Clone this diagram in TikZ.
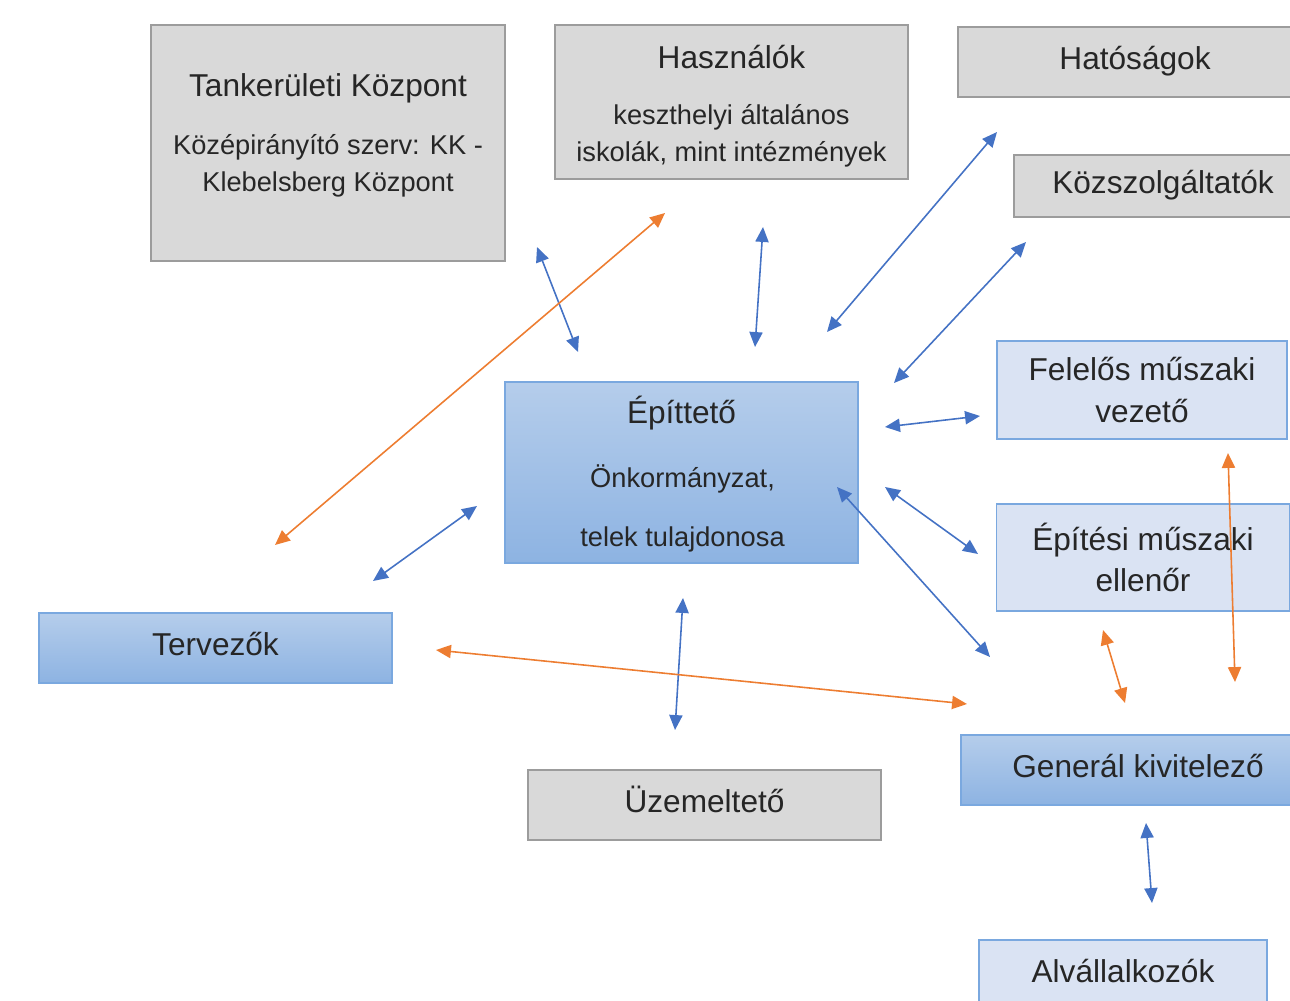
\documentclass[tikz,border=0pt]{standalone}
\usepackage{fontspec}
\setmainfont{Liberation Sans}
\usetikzlibrary{arrows.meta}
\definecolor{boxgray}{HTML}{D9D9D9}
\definecolor{linegray}{HTML}{9C9C9C}
\definecolor{bluetop}{HTML}{B5CDEB}
\definecolor{bluebot}{HTML}{8DB3E2}
\definecolor{blueline}{HTML}{7AA8DF}
\definecolor{lightblue}{HTML}{DAE3F3}
\definecolor{arrblue}{HTML}{4472C4}
\definecolor{arrorange}{HTML}{ED7D31}
\definecolor{txt}{HTML}{262626}
\tikzset{
  block/.style={draw, line width=0.8pt, inner sep=0pt, outer sep=0pt, text=txt,
    align=center, font=\fontsize{18}{23.8}\selectfont},
  oneline/.style={text height=13.5pt, text depth=4.5pt},
  graybox/.style={block, draw=linegray, fill=boxgray},
  bluebox/.style={block, draw=blueline, top color=bluetop, bottom color=bluebot},
  lightbox/.style={block, draw=blueline, fill=lightblue},
  title/.style={inner sep=0pt, text=txt, font=\fontsize{18}{23.8}\selectfont},
  subtext/.style={inner sep=0pt, text=txt, align=center, font=\fontsize{15.5}{21}\selectfont},
  bluearrow/.style={arrblue, line width=0.9pt,
    {Triangle[length=8.5pt,width=7.5pt]}-{Triangle[length=8.5pt,width=7.5pt]}},
  orangearrow/.style={bluearrow, arrorange},
}
\begin{document}
\begin{tikzpicture}[x=0.02cm, y=-0.02cm]
  \useasboundingbox (0,0) rectangle (1290,1000);
  \clip (0,0) rectangle (1290,1000);
  % boxes
  \node[graybox, minimum width=7.08cm, minimum height=4.72cm] (tk) at (328,143) {};
  \node[title] (tk-t) at (328,88) {Tankerületi Központ};
  \node[subtext] (tk-s) at (328,166) {Középirányító szerv: KK -\\Klebelsberg Központ};
  \node[graybox, minimum width=7.06cm, minimum height=3.08cm] (hasz) at (731.5,102) {};
  \node[title] (hasz-t) at (731.5,57) {Használók};
  \node[subtext] (hasz-s) at (731.5,136) {keszthelyi általános\\iskolák, mint intézmények};
  \node[graybox, oneline, minimum width=7.08cm, minimum height=1.40cm] (hat) at (1135,62) {Hatóságok};
  \node[graybox, oneline, minimum width=5.96cm, minimum height=1.24cm] (kozsz) at (1163,186) {Közszolgáltatók};
  \node[bluebox, minimum width=7.06cm, minimum height=3.62cm] (epit) at (681.5,472.5) {};
  \node[title] (epit-t) at (681.5,413) {Építtető};
  \node[subtext, font=\fontsize{15.5}{33.5}\selectfont] (epit-s) at (682.5,508.5) {Önkormányzat,\\telek tulajdonosa};
  \node[lightbox, minimum width=5.80cm, minimum height=1.96cm] (fmv) at (1142,390) {Felelős műszaki\\vezető};
  \node[lightbox, minimum width=5.86cm, minimum height=2.14cm] (emv) at (1143,557.5) {Építési műszaki\\ellenőr};
  \node[bluebox, oneline, minimum width=7.06cm, minimum height=1.40cm] (terv) at (215.5,648) {Tervezők};
  \node[graybox, oneline, minimum width=7.06cm, minimum height=1.40cm] (uzem) at (704.5,805) {Üzemeltető};
  \node[bluebox, oneline, minimum width=7.08cm, minimum height=1.40cm] (gen) at (1138,770) {Generál kivitelező};
  \node[lightbox, oneline, minimum width=5.76cm, minimum height=1.40cm] (alv) at (1123,975) {Alvállalkozók};
  % arrow ends
  \coordinate (tk-a) at (537,247);   \coordinate (epit-tk) at (578,352);
  \coordinate (hasz-a) at (763,227); \coordinate (epit-hasz) at (755,347);
  \coordinate (hat-a) at (997,132);  \coordinate (epit-hat) at (827,332);
  \coordinate (kozsz-a) at (1026,242); \coordinate (epit-kozsz) at (894,383);
  \coordinate (epit-fmv) at (885,427); \coordinate (fmv-a) at (980,416);
  \coordinate (epit-emv) at (885,487); \coordinate (emv-a) at (978,554);
  \coordinate (epit-gen) at (837,487); \coordinate (gen-a) at (990,657);
  \coordinate (epit-terv) at (477,506); \coordinate (terv-a) at (373,581);
  \coordinate (epit-uzem) at (683,598); \coordinate (uzem-a) at (675,730);
  \coordinate (gen-alv) at (1146,823); \coordinate (alv-a) at (1152,903);
  \coordinate (hasz-b) at (665,213); \coordinate (terv-b) at (275,545);
  \coordinate (terv-c) at (436,650); \coordinate (gen-b) at (967,704);
  \coordinate (fmv-b) at (1228,453); \coordinate (gen-c) at (1235,682);
  \coordinate (emv-b) at (1103,630); \coordinate (gen-d) at (1125,703);
  % connectors
  \draw[bluearrow] (tk-a) -- (epit-tk);
  \draw[bluearrow] (hasz-a) -- (epit-hasz);
  \draw[bluearrow] (hat-a) -- (epit-hat);
  \draw[bluearrow] (kozsz-a) -- (epit-kozsz);
  \draw[bluearrow] (epit-fmv) -- (fmv-a);
  \draw[bluearrow] (epit-emv) -- (emv-a);
  \draw[bluearrow] (epit-gen) -- (gen-a);
  \draw[bluearrow] (epit-terv) -- (terv-a);
  \draw[bluearrow] (epit-uzem) -- (uzem-a);
  \draw[bluearrow] (gen-alv) -- (alv-a);
  \draw[orangearrow] (hasz-b) -- (terv-b);
  \draw[orangearrow] (terv-c) -- (gen-b);
  \draw[orangearrow] (fmv-b) -- (gen-c);
  \draw[orangearrow] (emv-b) -- (gen-d);
\end{tikzpicture}
\end{document}
